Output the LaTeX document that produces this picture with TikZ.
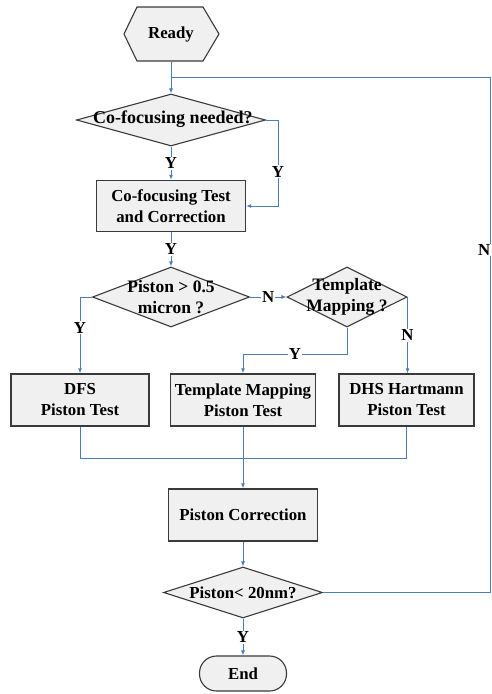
\documentclass[tikz,border=0pt]{standalone}
\usepackage{fontspec}
\setmainfont{Liberation Serif}
\usetikzlibrary{arrows.meta,shapes.geometric}
\definecolor{lineblue}{HTML}{4A7EBB}
\definecolor{boxfill}{HTML}{F0F0F0}
\definecolor{boxdraw}{HTML}{3A3A3A}
\begin{document}
\begin{tikzpicture}[x=1pt,y=-1pt,
  font=\fontsize{16.8}{21}\selectfont\bfseries,
  box/.style={draw=boxdraw, fill=boxfill, line width=1.4pt, align=center, inner sep=0pt},
  dia/.style={diamond, draw=boxdraw, fill=boxfill, line width=1.1pt, inner sep=0pt},
  txt/.style={align=center, inner sep=0pt},
  conn/.style={draw=lineblue, line width=0.9pt},
  arr/.style={conn, -{Latex[length=5pt,width=4pt]}},
  lbl/.style={fill=white, inner sep=1pt}]
\useasboundingbox (0,0) rectangle (491,694);

% Ready hexagon
\draw[draw=boxdraw, fill=boxfill, line width=1.1pt]
  (124,34) -- (137,7) -- (203,7) -- (219,34) -- (203,61) -- (137,61) -- cycle
  (171,34) node[txt, minimum width=95pt, minimum height=54pt] (ready) {Ready};

% decisions and steps
\node[dia, minimum width=189pt, minimum height=52pt] (d1) at (171,120) {};
\node[txt, font=\fontsize{18}{21}\selectfont\bfseries] (t1) at (173,119) {Co-focusing needed?};
\node[box, minimum width=149pt, minimum height=51pt] (cft) at (171,206) {Co-focusing Test\\and Correction};

\node[dia, minimum width=157pt, minimum height=60pt] (d2) at (171,297) {};
\node[txt, font=\fontsize{17.5}{21}\selectfont\bfseries] (t2) at (d2) {Piston > 0.5\\micron ?};
\node[dia, minimum width=120pt, minimum height=60pt] (d3) at (347,297) {};
\node[txt, font=\fontsize{17.5}{21}\selectfont\bfseries] (t3) at (d3) {Template\\Mapping ?};

\node[box, minimum width=138pt, minimum height=52pt] (dfs) at (80,400) {DFS\\Piston Test};
\node[box, minimum width=145pt, minimum height=52pt] (tm) at (243,400) {Template Mapping\\Piston Test};
\node[box, minimum width=135pt, minimum height=52pt] (dhs) at (406.5,400) {DHS Hartmann\\Piston Test};

\node[box, minimum width=149pt, minimum height=52pt] (pc) at (243,515) {Piston Correction};
\node[dia, minimum width=159pt, minimum height=51pt] (d4) at (243,592.5) {};
\node[txt] (t4) at (d4) {Piston< 20nm?};
\node[box, line width=1.1pt, rounded corners=17pt, minimum width=87pt, minimum height=35pt] (end) at (243,673.5) {End};

\coordinate (j1) at (171,77);
\coordinate (m) at (243,458);
\coordinate (r1) at (490,592.5);
\coordinate (r2) at (490,77);

% connectors
\draw[conn] (ready.south) -- (j1);
\draw[arr] (j1) -- (d1.north);
\draw[arr] (d1.south) -- node[lbl]{Y} (cft.north);
\draw[arr] (d1.east) -- (278,120) -- node[lbl, pos=0.6]{Y} (278,206) -- (cft.east);
\draw[arr] (cft.south) -- node[lbl]{Y} (d2.north);
\draw[arr] (d2.east) -- node[lbl]{N} (d3.west);
\draw[arr] (d2.west) -| node[lbl, pos=0.7]{Y} (dfs.north);
\draw[arr] (d3.south) -- (347,354) -- node[lbl]{Y} (243,354) -- (tm.north);
\draw[arr] (d3.east) -- node[lbl]{N} (d3.east |- dhs.north);
\draw[conn] (dfs.south) |- (m);
\draw[conn] (dhs.south) |- (m);
\draw[conn] (tm.south) -- (m);
\draw[arr] (m) -- (pc.north);
\draw[arr] (pc.south) -- (d4.north);
\draw[arr] (d4.south) -- node[lbl]{Y} (end.north);
\draw[conn] (d4.east) -- (r1) -- (r2) -- (j1);
\node[lbl, anchor=east, inner sep=0.5pt] (nlbl) at (491,250) {N};
\end{tikzpicture}
\end{document}
